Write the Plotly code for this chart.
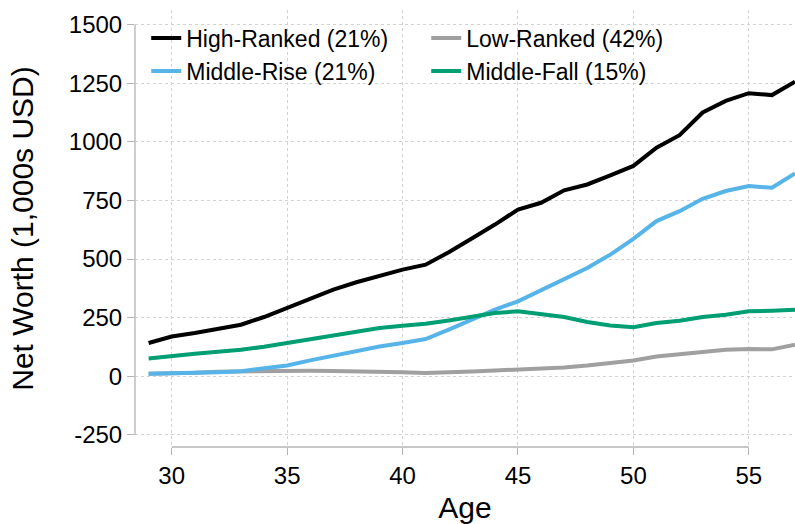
import plotly.graph_objects as go

ages = list(range(29, 58))
high_ranked = [142, 170, 185, 202, 220, 253, 291, 330, 370, 401, 427, 455,
               476, 529, 588, 647, 711, 740, 793, 818, 857, 897, 975, 1028,
               1125, 1174, 1207, 1199, 1256]
low_ranked = [11, 12, 15, 20, 22, 24, 25, 24, 23, 22, 19, 17,
              14, 16, 21, 25, 28, 32, 38, 46, 56, 68, 85, 95,
              106, 113, 117, 115, 135]
middle_rise = [11, 12, 15, 18, 22, 32, 46, 68, 89, 110, 127, 142,
               159, 199, 241, 284, 320, 367, 412, 462, 519, 586, 662, 704,
               757, 790, 811, 804, 865]
middle_fall = [76, 88, 96, 105, 113, 126, 142, 159, 177, 194, 206, 216,
               224, 238, 256, 270, 277, 267, 253, 232, 217, 209, 227, 237,
               253, 263, 277, 280, 284]

series_names = ["High-Ranked (21%)", "Low-Ranked (42%)", "Middle-Rise (21%)", "Middle-Fall (15%)"]
series_values = [high_ranked, low_ranked, middle_rise, middle_fall]
series_colors = ["#000000", "#A0A0A0", "#56B4E9", "#009E73"]

x_ticks = [30, 35, 40, 45, 50, 55]
y_ticks = [-250, 0, 250, 500, 750, 1000, 1250, 1500]
y_tick_labels = [str(v) for v in y_ticks]

FONT = "Liberation Sans, Arial, Helvetica, sans-serif"
AXIS_GRAY = "#B4B4B4"
GRID_GRAY = "#D2D2D2"

fig = go.Figure()
for name, vals, col in zip(series_names, series_values, series_colors):
    fig.add_trace(go.Scatter(x=ages, y=vals, mode="lines", name=name,
                             line=dict(color=col, width=4)))

fig.update_layout(
    width=795, height=524,
    margin=dict(l=135, r=0, t=10, b=77, autoexpand=False),
    paper_bgcolor="white", plot_bgcolor="white",
    font=dict(family=FONT, color="black", size=24),
    showlegend=True,
    legend=dict(orientation="h", x=0.017, y=0.985, xanchor="left", yanchor="top",
                entrywidth=235, entrywidthmode="pixels",
                font=dict(size=23, family=FONT), bgcolor="rgba(0,0,0,0)",
                tracegroupgap=0, itemwidth=30),
    xaxis=dict(range=[28.41, 57.0], tickvals=x_ticks, ticks="outside", ticklen=7,
               tickcolor=AXIS_GRAY, tickwidth=1.3, showline=False, zeroline=False,
               showgrid=True, gridcolor=GRID_GRAY, griddash="dot", gridwidth=1,
               tickfont=dict(size=24),
               title=dict(text="Age", font=dict(size=30), standoff=10)),
    yaxis=dict(range=[-301.2, 1561.8], tickvals=y_ticks, ticktext=y_tick_labels,
               ticks="outside", ticklen=7,
               tickcolor=AXIS_GRAY, tickwidth=1.3, showline=False, zeroline=False,
               showgrid=True, gridcolor=GRID_GRAY, griddash="dot", gridwidth=1,
               tickfont=dict(size=24),
               title=dict(text="Net Worth (1,000s USD)", font=dict(size=30), standoff=26)),
)

# Axis lines spanning only the tick range (Stata style)
fig.add_shape(type="line", xref="x", yref="paper", x0=x_ticks[0], x1=x_ticks[-1], y0=0, y1=0,
              line=dict(color=AXIS_GRAY, width=1.3))
fig.add_shape(type="line", xref="paper", yref="y", x0=0, x1=0, y0=y_ticks[0], y1=y_ticks[-1],
              line=dict(color=AXIS_GRAY, width=1.3))

fig.write_html("out.html", config={"displayModeBar": False},
               post_script="document.body.style.margin='0px';document.body.style.overflow='hidden';")
